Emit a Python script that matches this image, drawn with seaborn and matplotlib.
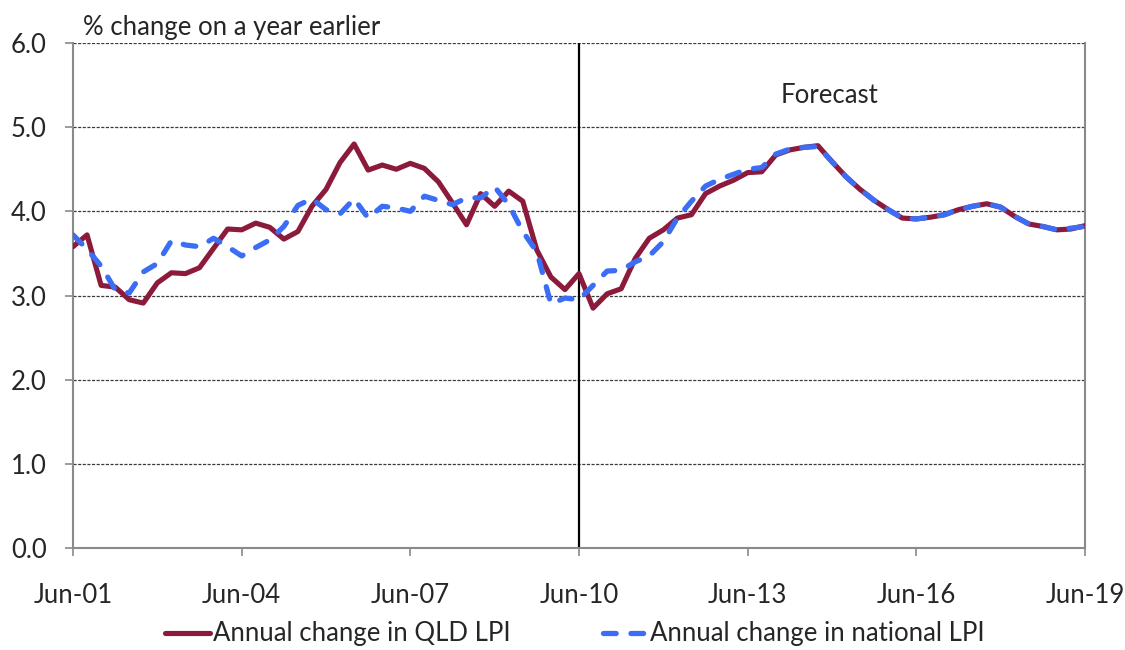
import numpy as np
import pandas as pd
import matplotlib
matplotlib.use("Agg")
import matplotlib.pyplot as plt
import seaborn as sns

# ---- data (quarterly, Jun-01 .. Jun-19) ----
qld_lpi = [3.58, 3.72, 3.12, 3.10, 2.95, 2.91, 3.15, 3.27, 3.26, 3.33,
           3.56, 3.79, 3.78, 3.86, 3.81, 3.67, 3.76, 4.06, 4.26, 4.58,
           4.80, 4.49, 4.55, 4.50, 4.57, 4.51, 4.35, 4.10, 3.84, 4.21,
           4.06, 4.24, 4.12, 3.54, 3.22, 3.07, 3.26, 2.85, 3.02, 3.08,
           3.44, 3.68, 3.78, 3.92, 3.96, 4.21, 4.30, 4.37, 4.46, 4.47,
           4.67, 4.73, 4.76, 4.78, 4.59, 4.41, 4.26, 4.13, 4.02, 3.92,
           3.91, 3.93, 3.96, 4.02, 4.06, 4.09, 4.05, 3.94, 3.85, 3.82,
           3.78, 3.79, 3.83]
national_lpi = [3.72, 3.55, 3.35, 3.07, 3.03, 3.28, 3.38, 3.65, 3.60, 3.58,
                3.68, 3.58, 3.47, 3.57, 3.66, 3.82, 4.07, 4.15, 4.02, 3.97,
                4.15, 3.92, 4.06, 4.04, 4.00, 4.18, 4.13, 4.08, 4.16, 4.16,
                4.29, 4.08, 3.76, 3.52, 2.90, 2.97, 2.95, 3.12, 3.29, 3.30,
                3.40, 3.47, 3.64, 3.92, 4.12, 4.30, 4.38, 4.44, 4.50, 4.52,
                4.68, 4.74, 4.76, 4.77, 4.59, 4.41, 4.26, 4.13, 4.02, 3.92,
                3.91, 3.93, 3.96, 4.02, 4.06, 4.09, 4.05, 3.94, 3.85, 3.82,
                3.78, 3.80, 3.82]
tick_labels = ["Jun-01", "Jun-04", "Jun-07", "Jun-10", "Jun-13", "Jun-16", "Jun-19"]
y_ticks = [0.0, 1.0, 2.0, 3.0, 4.0, 5.0, 6.0]
forecast_start = 36  # Jun-10
series_names = ["Annual change in QLD LPI", "Annual change in national LPI"]

quarters = np.arange(len(qld_lpi))
df = pd.DataFrame({"q": quarters, "qld": qld_lpi, "nat": national_lpi})

sns.set_style("white")
plt.rcParams["font.family"] = ["Lato", "DejaVu Sans"]

FS = 18.5

fig = plt.figure(figsize=(11.25, 6.5), dpi=100)
ax = fig.add_axes([73 / 1125, 1 - 548 / 650, (1085 - 73) / 1125, (548 - 43) / 650])

maroon = "#8C1A3B"
blue = "#3B6EF5"

for yv in y_ticks[1:]:
    ax.axhline(yv, color="#3a3a3a", lw=0.9, ls=(0, (2.5, 1.2)), zorder=1)

ax.axvline(forecast_start, color="black", lw=1.6, zorder=2)

sns.lineplot(data=df, x="q", y="qld", ax=ax, color=maroon, lw=3.7,
             label=series_names[0], zorder=3)
sns.lineplot(data=df, x="q", y="nat", ax=ax, color=blue, lw=3.8,
             label=series_names[1], zorder=4)
nat_line = ax.get_lines()[-1]
nat_line.set_dashes((2.4, 2.8))
nat_line.set_dash_capstyle("round")
ax.get_lines()[-2].set_solid_capstyle("round")
ax.get_lines()[-2].set_solid_joinstyle("round")

ax.set_xlim(0, len(qld_lpi) - 1)
ax.set_ylim(0, 6)
ax.set_xticks(np.arange(0, len(qld_lpi), 12))
ax.set_xticklabels(tick_labels)
ax.set_yticks(y_ticks)
ax.set_yticklabels([f"{v:.1f}" for v in y_ticks])
ax.set_xlabel("")
ax.set_ylabel("")

for side in ["left", "bottom", "right"]:
    ax.spines[side].set_visible(True)
    ax.spines[side].set_color("#8a8a8a")
    ax.spines[side].set_linewidth(1.5)
ax.spines["top"].set_visible(False)

ax.tick_params(axis="x", direction="out", length=6, width=1.2, color="#8a8a8a",
               pad=19, labelsize=FS, bottom=True)
ax.tick_params(axis="y", direction="out", length=6, width=1.2, color="#8a8a8a",
               pad=13, labelsize=FS, left=True)

ax.text(53.8, 5.38, "Forecast", ha="center", va="center", fontsize=FS)
fig.text(83 / 1125, 1 - 27 / 650, "% change on a year earlier", ha="left",
         va="center", fontsize=FS)

ax.get_legend().remove()
handles = ax.get_lines()[-2:]
leg = fig.legend(handles, series_names, loc="center", ncol=2,
                 bbox_to_anchor=(575 / 1125, 1 - 634 / 650), frameon=False,
                 fontsize=FS, handlelength=1.75, handletextpad=0.1,
                 columnspacing=3.6, borderpad=0.1)

fig.savefig("out.png", dpi=100)
